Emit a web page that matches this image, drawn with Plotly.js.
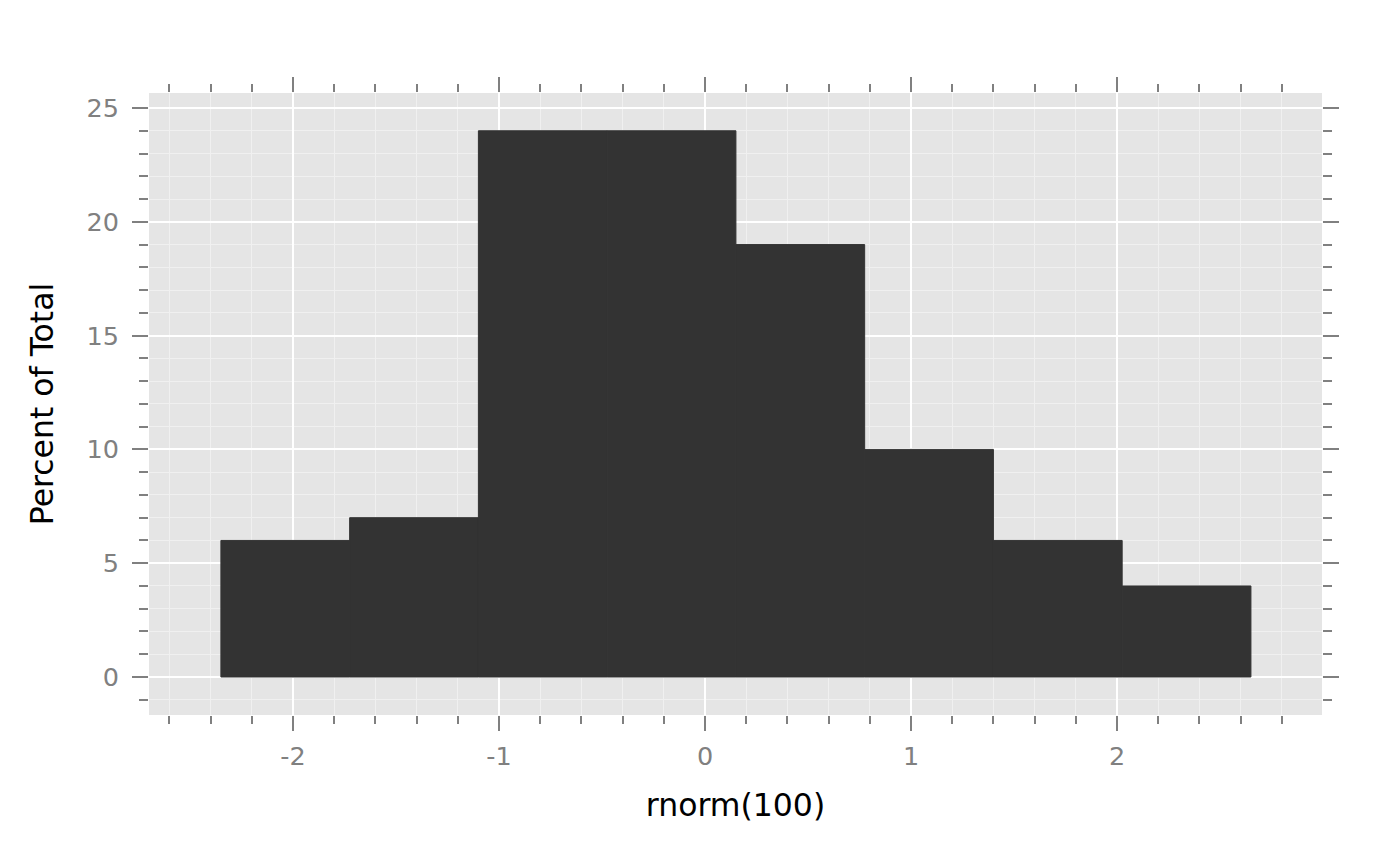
<!DOCTYPE html>
<html>
<head>
<meta charset="utf-8">
<script src="https://cdn.plot.ly/plotly-3.0.1.min.js"></script>
<style>html,body{margin:0;padding:0;background:#fff;}#chart{width:1400px;height:866px;}</style>
</head>
<body>
<div id="chart"></div>
<script>
// Histogram bins (lower and upper edges) and percent of total
const binLower = [-2.35, -1.725, -1.1, -0.475, 0.15, 0.775, 1.4, 2.025];
const binUpper = [-1.725, -1.1, -0.475, 0.15, 0.775, 1.4, 2.025, 2.65];
const percent = [6, 7, 24, 24, 19, 10, 6, 4];

const xTickVals = [-2, -1, 0, 1, 2];
const xTickText = ["-2", "-1", "0", "1", "2"];
const yTickVals = [0, 5, 10, 15, 20, 25];
const yTickText = ["0", "5", "10", "15", "20", "25"];

const xTitle = "rnorm(100)";
const yTitle = "Percent of Total";

const widths = binLower.map((lo, i) => binUpper[i] - lo);

const trace = {
  type: 'bar',
  x: binLower,
  y: percent,
  width: widths,
  offset: 0,
  marker: {color: '#333333', line: {width: 1, color: '#333333'}},
  hoverinfo: 'x+y'
};

const tickGray = '#808080';
const font = 'DejaVu Sans, sans-serif';

const layout = {
  width: 1400,
  height: 866,
  margin: {l: 149, r: 78, t: 93, b: 151, pad: 0},
  paper_bgcolor: '#ffffff',
  plot_bgcolor: '#E5E5E5',
  showlegend: false,
  font: {family: font, color: '#000000'},
  xaxis: {
    range: [-2.699, 2.995],
    tickvals: xTickVals,
    ticktext: xTickText,
    ticks: 'outside',
    ticklen: 15,
    tickwidth: 2,
    tickcolor: tickGray,
    mirror: 'ticks',
    showline: false,
    zeroline: false,
    showgrid: true,
    gridcolor: '#FFFFFF',
    gridwidth: 2,
    tickfont: {family: font, size: 25.5, color: tickGray},
    ticklabelstandoff: 3,
    minor: {
      dtick: 0.2,
      tick0: 0,
      ticks: 'outside',
      ticklen: 8,
      tickwidth: 2,
      tickcolor: tickGray,
      showgrid: true,
      gridcolor: '#F0F0F0',
      gridwidth: 1
    },
    title: {text: xTitle, font: {family: font, size: 31.5, color: '#000000'}, standoff: 24}
  },
  yaxis: {
    range: [-1.67, 25.66],
    tickvals: yTickVals,
    ticktext: yTickText,
    ticks: 'outside',
    ticklen: 16,
    tickwidth: 2,
    tickcolor: tickGray,
    mirror: 'ticks',
    showline: false,
    zeroline: false,
    showgrid: true,
    gridcolor: '#FFFFFF',
    gridwidth: 2,
    tickfont: {family: font, size: 25.5, color: tickGray},
    ticklabelstandoff: 8,
    minor: {
      dtick: 1,
      tick0: 0,
      ticks: 'outside',
      ticklen: 9,
      tickwidth: 2,
      tickcolor: tickGray,
      showgrid: true,
      gridcolor: '#F0F0F0',
      gridwidth: 1
    },
    title: {text: yTitle, font: {family: font, size: 31.5, color: '#000000'}, standoff: 23}
  }
};

Plotly.newPlot('chart', [trace], layout, {displayModeBar: false, staticPlot: true});
</script>
</body>
</html>
